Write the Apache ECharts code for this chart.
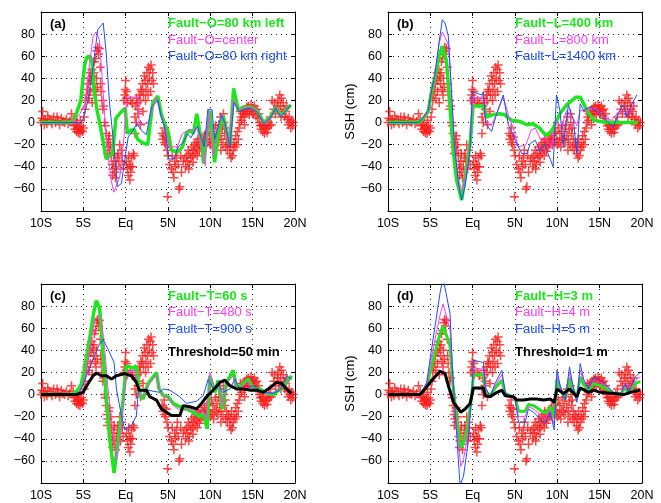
<!DOCTYPE html>
<html>
<head>
<meta charset="utf-8">
<script src="https://cdn.jsdelivr.net/npm/echarts@6/dist/echarts.min.js"></script>
<style>html,body{margin:0;padding:0;background:#fff}#c{width:661px;height:503px}</style>
</head>
<body>
<div id="c"></div>
<script>
// ---------- DATA ----------
const xTickValues = [-10, -5, 0, 5, 10, 15, 20];
const xTickLabels = ['10S', '5S', 'Eq', '5N', '10N', '15N', '20N'];
const panelLabels = ['(a)', '(b)', '(c)', '(d)'];

// Observed SSH (cm) vs latitude (red crosses), same in every panel
const obs = [
[-10,0],[-9.9,4],[-9.8,10],[-9.7,2],[-9.6,-2],[-9.5,3],[-9.3,-1],[-9.2,6],[-9.0,3],[-8.8,1],[-8.7,-1],[-8.5,5],[-8.3,0],[-8.1,5],[-8.0,2],[-7.8,-2],[-7.6,4],[-7.4,1],[-7.2,0],[-7.0,3],[-6.8,-1],[-6.6,1],
[-6.4,8],[-6.2,3],[-6.1,-3],[-6.0,-6],[-5.9,-2],[-5.8,-8],[-5.75,0],[-5.7,-5],[-5.6,-9],[-5.5,-4],[-5.4,-10],[-5.35,2],[-5.3,-7],[-5.2,-3],[-5.1,-8],[-5.0,-5],
[-4.9,5],[-4.8,12],[-4.7,20],[-4.6,25],[-4.5,30],[-4.4,35],[-4.35,22],[-4.3,40],[-4.2,45],[-4.15,28],[-4.1,38],[-4.0,48],[-3.95,18],[-3.9,42],[-3.8,35],[-3.75,45],[-3.7,55],[-3.6,30],[-3.55,58],[-3.5,25],[-3.45,40],[-3.4,65],[-3.35,32],[-3.3,68],
[-3.2,62],[-3.1,67],[-3.0,50],[-2.95,35],[-2.9,28],[-2.8,20],[-2.7,12],[-2.6,15],[-2.5,0],[-2.4,-3],
[-2.3,-10],[-2.2,-18],[-2.15,-28],[-2.1,-22],[-2.0,-15],[-1.95,-12],[-1.9,-25],[-1.8,-20],
[-1.7,-30],[-1.6,-38],[-1.55,-48],[-1.5,-42],[-1.4,-35],[-1.35,-28],[-1.3,-45],[-1.2,-50],[-1.1,-40],[-1.0,-32],[-0.9,-28],[-0.8,-35],[-0.7,-20],[-0.6,-42],[-0.5,-25],[-0.4,-30],[-0.3,-38],
[-0.2,20],[-0.1,25],[-0.05,30],[0.0,38],[0.1,22],[0.15,28],[0.2,18],
[0.1,-35],[0.2,-42],[0.3,-48],[0.35,-30],[0.4,-38],[0.5,-52],[0.55,-40],[0.6,-45],[0.7,-32],[0.8,-40],[0.9,-28],[1.0,-30],[1.1,-10],
[0.6,20],[0.8,17],[1.1,5],[1.2,15],[1.25,0],[1.3,22],[1.4,18],[1.45,8],[1.5,12],[1.6,25],[1.7,20],[1.75,-2],[1.8,30],[1.9,28],[2.0,35],[2.05,10],[2.1,25],[2.2,42],[2.3,38],[2.35,20],[2.4,30],[2.5,45],[2.6,35],[2.65,25],[2.7,50],[2.8,40],[2.9,48],[2.95,28],[3.0,52],[3.1,38],[3.2,45],[3.3,35],
[4.3,-10],[4.4,-15],[4.5,-12],[4.55,-5],[4.6,-18],[4.7,-20],[4.8,-13],[4.9,-25],[4.95,-67],[5.0,-30],
[5.2,-38],[5.4,-42],[5.5,-30],[5.6,-45],[5.7,-50],[5.8,-35],[5.9,-40],[6.0,-32],[6.1,-25],[6.2,-38],[6.3,-60],[6.4,-58],[6.5,-30],[6.6,-45],[6.8,-35],[7.0,-32],[7.1,-40],
[7.2,-30],[7.3,-35],[7.4,-25],[7.45,-42],[7.5,-38],[7.6,-28],[7.7,-32],[7.8,-22],[7.9,-30],[7.95,-36],[8.0,-25],[8.1,-20],[8.2,-28],[8.3,-18],[8.4,-24],[8.45,-30],[8.5,-15],[8.6,-20],[8.7,-26],[8.8,-18],[8.9,-22],[9.0,-14],[9.1,-20],[9.2,-16],[9.3,-12],[9.4,-20],[9.5,-15],[9.6,-10],
[9.7,-18],[9.8,-8],[9.9,-15],[10.0,-20],[10.1,-5],[10.2,-18],[10.3,-10],[10.4,-22],[10.5,-14],[10.6,-3],[10.7,-16],[10.8,-8],[10.9,-18],[11.0,-2],[11.1,-12],[11.2,5],[11.25,-25],[11.3,-15],[11.4,-6],[11.5,-20],[11.55,8],[11.6,0],[11.7,-10],[11.75,-5],[11.8,-22],[11.9,-15],[12.0,-25],[12.1,-18],
[12.2,-20],[12.3,-28],[12.4,-22],[12.45,-32],[12.5,-15],[12.6,-30],[12.7,-25],[12.8,-18],[12.9,-22],[13.0,-12],[13.1,-20],[13.2,-8],[13.3,-15],
[13.4,-5],[13.5,0],[13.55,10],[13.6,5],[13.7,2],[13.8,8],[13.9,10],[14.0,5],[14.05,-2],[14.1,12],[14.2,8],[14.3,14],[14.4,10],[14.5,15],[14.6,7],[14.7,12],[14.8,16],[14.9,10],[15.0,13],[15.1,8],[15.2,15],[15.3,11],[15.4,6],[15.5,12],[15.6,4],[15.7,8],[15.8,0],
[15.9,-3],[16.0,-6],[16.1,-2],[16.2,-8],[16.3,-4],[16.4,-10],[16.5,-6],[16.6,-2],[16.7,-9],[16.8,-5],[16.9,0],[17.0,-3],
[17.1,5],[17.2,-2],[17.3,20],[17.5,12],[17.6,18],[17.7,8],[17.9,15],[18.0,20],[18.1,10],[18.2,25],[18.3,15],[18.35,5],[18.4,22],[18.5,8],[18.6,18],[18.7,12],[18.8,5],[18.9,10],[19.0,15],[19.1,3],[19.2,-2],[19.3,5],[19.4,0],[19.5,-5],[19.6,2],[19.7,-3],[19.8,0]
];

// (a) Fault offset
const aGreen = [[-10,0],[-6.5,0],[-6.0,4],[-5.6,13],[-5.3,20],[-5.1,35],[-4.85,52],[-4.6,59],[-4.25,60],[-3.95,54],[-3.75,30],[-3.4,12],[-3.0,-3],[-2.6,-20],[-2.3,-33],[-1.55,-28],[-1.15,4],[-0.6,9],[-0.05,13],[0.2,-10],[0.6,-7],[1.0,-6],[1.4,-15],[1.9,-18],[2.6,-20],[3.2,18],[3.8,24],[4.2,8],[4.6,-1],[5.0,-8],[5.4,-25],[6.1,-27],[6.7,-22],[7.2,-9],[7.6,-7],[8.0,-10],[8.4,8],[8.9,-15],[9.2,-37],[9.6,-10],[9.95,11],[10.5,-36],[11.0,-8],[11.5,7],[12.3,-20],[12.75,31],[13.3,11],[13.9,14],[14.8,14],[15.6,10],[16.3,0],[17.1,5],[17.7,14],[18.3,6],[19.5,16]];
const aMagenta = [[-10,0],[-6.5,0],[-6.0,2],[-5.4,8],[-4.85,17],[-4.45,41],[-3.85,78],[-3.5,82],[-3.1,75],[-2.7,32],[-2.3,-13],[-1.8,-49],[-1.4,-63],[-0.7,-49],[-0.2,-13],[0.1,23],[1.45,23],[1.6,-1],[2.6,-1],[3.6,23],[4.2,6],[4.6,-3],[5.1,-22],[6.1,-22],[6.7,-10],[7.2,-8],[7.6,-6],[8.0,-7],[8.4,-5],[8.9,-20],[9.4,-39],[9.8,11],[10.3,-30],[10.8,-5],[11.4,7],[12.2,-18],[12.7,21],[13.3,11],[13.9,14],[14.8,14],[15.6,10],[16.3,0],[17.1,5],[17.7,14],[18.3,6],[19.5,16]];
const aBlue = [[-10,0],[-5.2,0],[-5.0,4],[-4.45,20],[-3.85,50],[-3.3,84],[-2.65,90],[-2.3,63],[-1.9,17],[-1.3,-28],[-0.98,-58],[-0.5,-55],[-0.05,-31],[0.3,-13],[0.9,-7],[1.3,-1],[1.85,-7],[2.45,-11],[3.05,14],[3.8,20],[4.2,5],[4.6,-4],[5.1,-33],[5.7,-33],[6.2,-22],[6.8,-18],[7.3,-10],[7.7,-14],[8.1,-8],[8.5,-3],[8.9,-14],[9.3,-22],[9.7,12],[10.2,12],[10.5,-15],[10.9,-5],[11.3,7],[11.7,0],[12.3,-22],[12.8,18],[13.4,10],[14.0,12],[14.8,13],[15.6,9],[16.3,-1],[17.1,4],[17.7,13],[18.3,5],[19.5,16]];

// (b) Fault length
const bGreen = [[-10,0],[-6.4,0],[-5.8,4],[-5.25,10],[-4.85,28],[-4.45,41],[-3.95,60],[-3.6,69],[-3.1,56],[-2.7,17],[-2.3,-25],[-1.9,-52],[-1.3,-70],[-0.8,-45],[-0.3,-19],[0.05,15],[1.3,15],[1.6,5],[2.4,7],[3.2,8],[3.8,7],[4.6,2],[5.6,1],[6.4,-2],[7.1,-1],[7.9,-5],[8.7,-12],[9.4,-7],[10.3,8],[11.1,16],[12.2,23],[12.7,23],[13.5,11],[14.3,2],[15.8,0],[17.4,0],[19.5,0]];
const bMagenta = [[-10,0],[-6.4,0],[-5.8,4],[-5.25,10],[-4.85,29],[-4.45,44],[-3.95,72],[-3.58,82],[-3.2,76],[-2.85,70],[-2.5,26],[-2.15,-19],[-1.7,-50],[-1.3,-62],[-0.9,-52],[-0.3,-22],[0.05,23],[0.7,22],[1.25,24],[1.55,2],[2.25,-2],[2.85,8],[3.6,23],[4.3,5],[4.8,-5],[5.4,-22],[6.3,-20],[6.9,-7],[7.4,-5],[8.0,-15],[8.6,-13],[9.3,-22],[9.9,2],[10.5,-4],[11.1,11],[11.9,4],[12.3,-3],[12.7,11],[13.5,11],[14.5,13],[15.7,4],[16.4,2],[17.4,11],[18.0,7],[19.4,16]];
const bBlue = [[-10,0],[-6.4,0],[-5.8,5],[-5.25,11],[-4.85,29],[-4.45,44],[-3.98,72],[-3.58,93],[-3.27,90],[-2.87,78],[-2.48,26],[-2.17,-19],[-1.69,-55],[-1.3,-70],[-0.91,-58],[-0.31,-25],[-0.04,28],[0.67,26],[1.06,25],[1.26,28],[1.54,-1],[2.24,-8],[2.83,8],[3.62,25],[4.21,-2],[4.6,-8],[5.2,-19],[5.8,-28],[6.4,-28],[6.8,-19],[7.4,-16],[8.0,-27],[8.5,-19],[8.9,-28],[9.5,-40],[9.9,25],[10.3,11],[10.7,-22],[11.3,16],[11.9,2],[12.3,-28],[12.7,17],[13.1,11],[13.9,14],[14.5,11],[15.2,8],[16.0,0],[16.6,-4],[17.2,8],[17.8,16],[18.2,5],[18.8,17],[19.4,25]];

// (c) Fault rise time
const cGreen = [[-10,0],[-6.4,0],[-5.8,3],[-5.25,9],[-4.84,24],[-4.25,51],[-3.75,75],[-3.46,85],[-3.07,78],[-2.67,36],[-2.28,-3],[-1.9,-39],[-1.37,-71],[-0.9,-42],[-0.4,-12],[0.09,26],[0.88,24],[1.27,26],[1.59,2],[2.06,-4],[2.65,10],[3.64,20],[3.95,5],[4.43,-1],[5.02,-2],[5.61,-8],[6.4,-11],[7.19,-13],[7.97,-16],[8.76,-20],[9.16,-17],[9.63,-31],[9.94,17],[10.54,2],[10.93,13],[11.44,-13],[11.92,11],[12.7,22],[13.1,5],[13.89,10],[14.48,14],[15.07,5],[15.86,5],[16.65,1],[17.43,0],[18.22,5],[19.01,11],[19.6,17]];
const cMagenta = [[-10,0],[-6.2,0],[-5.43,2],[-4.84,14],[-4.25,41],[-3.65,68],[-3.26,72],[-2.87,67],[-2.47,41],[-2.08,5],[-1.6,-28],[-1.09,-60],[-0.62,-37],[-0.22,-4],[0.09,20],[1.08,22],[1.47,4],[2.06,-2],[2.65,8],[3.64,18],[4.03,4],[4.43,-1],[5.02,-3],[5.61,-10],[6.4,-14],[7.19,-14],[7.97,-13],[8.76,-17],[9.16,-15],[9.55,-22],[9.94,20],[10.54,4],[10.93,12],[11.44,-10],[11.92,10],[12.7,17],[13.1,4],[13.89,8],[14.48,12],[15.07,4],[15.86,4],[16.65,0],[17.43,2],[18.22,7],[19.01,10],[19.6,15]];
const cBlue = [[-10,0],[-5.82,0],[-5.23,5],[-4.64,17],[-3.85,32],[-3.26,43],[-2.67,50],[-2.08,41],[-1.37,29],[-1.09,5],[-0.5,-19],[-0.11,-32],[0.68,-28],[1.27,-19],[1.47,2],[2.06,5],[3.24,3],[4.03,2],[4.43,5],[5.21,4],[6.4,-2],[7.19,-8],[8.37,-6],[9.16,-1],[9.75,14],[10.34,5],[10.93,10],[11.44,2],[12.31,5],[12.9,14],[13.49,5],[14.28,5],[15.07,8],[15.86,4],[16.65,2],[17.43,1],[18.22,4],[19.01,17],[19.6,14]];
const cBlack = [[-10,0],[-5.82,0],[-5.03,2],[-4.44,10],[-3.85,17],[-3.46,19.5],[-2.87,17],[-2.27,17],[-1.68,14],[-1.09,17],[-0.11,19],[0.68,17],[1.27,11],[1.59,4],[2.46,4],[2.85,-2],[3.64,-5],[4.23,-13],[4.82,-16],[5.41,-19],[6.4,-19],[6.79,-10],[7.58,-11],[8.37,-13],[8.96,-8],[9.55,-2],[10.34,4],[11.13,11],[11.72,13],[12.31,8],[13.1,5],[13.89,5],[14.67,4],[15.46,4],[16.25,2],[16.84,5],[17.83,11],[18.42,10],[19.01,5],[19.6,1]];

// (d) Fault slip height
const dGreen = [[-10,0],[-6.22,0],[-5.43,7],[-5.03,20],[-4.44,38],[-3.85,55],[-3.5,62],[-3.06,53],[-2.67,44],[-2.35,10],[-1.88,-22],[-1.4,-48],[-1.09,-44],[-0.62,-30],[-0.11,-1],[0.09,18],[1.27,18],[1.47,4],[2.06,-1],[2.65,6],[3.44,13],[3.84,1],[4.43,-1],[5.02,-3],[5.41,-15],[6.2,-15],[6.59,-9],[7.19,-10],[7.97,-14],[8.56,-17],[9.16,-11],[9.63,-21],[9.95,14],[10.34,5],[10.93,-3],[11.44,15],[11.84,5],[12.31,-3],[12.7,16],[13.1,9],[13.69,4],[14.28,10],[15.07,8],[15.86,5],[16.65,1],[17.43,0],[18.02,6],[18.42,1],[19.21,10],[19.8,12]];
const dMagenta = [[-10,0],[-6.22,0],[-5.43,9],[-5.03,26],[-4.44,50],[-3.85,72],[-3.5,82],[-3.06,70],[-2.67,58],[-2.35,13],[-1.88,-30],[-1.4,-65],[-1.09,-59],[-0.62,-39],[-0.11,-1],[0.09,24],[1.27,23],[1.47,5],[2.06,-2],[2.65,8],[3.44,18],[3.84,1],[4.43,-2],[5.02,-4],[5.41,-20],[6.2,-20],[6.59,-11],[7.19,-13],[7.97,-18],[8.56,-22],[9.16,-14],[9.63,-27],[9.95,18],[10.34,6],[10.93,-4],[11.44,20],[11.84,7],[12.31,-5],[12.7,22],[13.1,12],[13.69,5],[14.28,13],[15.07,11],[15.86,7],[16.65,2],[17.43,0],[18.02,8],[18.42,2],[19.21,13],[19.8,16]];
const dBlue = [[-10,0],[-6.22,0],[-5.43,11],[-5.03,32],[-4.44,62],[-3.85,92],[-3.5,105],[-3.15,92],[-2.67,73],[-2.35,17],[-1.88,-37],[-1.49,-82],[-1.09,-74],[-0.62,-49],[-0.11,-1],[0.09,31],[1.27,29],[1.47,7],[2.06,-2],[2.65,10],[3.44,22],[3.84,2],[4.43,-2],[5.02,-4],[5.41,-25],[6.2,-25],[6.59,-13],[7.19,-16],[7.97,-22],[8.56,-26],[9.16,-16],[9.63,-32],[9.95,22],[10.34,8],[10.93,-5],[11.44,25],[11.84,8],[12.31,-7],[12.7,28],[13.1,14],[13.69,5],[14.28,16],[15.07,13],[15.86,8],[16.65,2],[17.43,0],[18.02,10],[18.42,2],[19.21,16],[19.8,20]];
const dBlack = [[-10,0],[-6.22,0],[-5.62,5],[-5.03,11],[-4.44,16],[-3.85,21],[-3.26,19],[-2.87,8],[-2.27,-7],[-1.68,-13],[-1.41,-16],[-0.89,-13],[-0.3,-8],[0.09,6],[1.27,6],[1.47,-1],[2.06,-2],[2.65,1],[3.44,4],[3.84,-1],[4.82,-2],[5.21,-5],[6.0,-5],[6.79,-4],[7.58,-4],[8.37,-5],[9.16,-4],[9.63,-7],[9.95,5],[10.73,1],[11.44,5],[12.31,-2],[12.7,6],[13.69,2],[14.28,4],[15.07,2],[16.65,1],[17.83,0],[18.62,2],[19.8,4]];

const legends = [
  ['Fault\u2212O=80 km left', 'Fault\u2212O=center', 'Fault\u2212O=80 km right'],
  ['Fault\u2212L=400 km', 'Fault\u2212L=800 km', 'Fault\u2212L=1400 km'],
  ['Fault\u2212T=60 s', 'Fault\u2212T=480 s', 'Fault\u2212T=900 s', 'Threshold=50 min'],
  ['Fault\u2212H=3 m', 'Fault\u2212H=4 m', 'Fault\u2212H=5 m', 'Threshold=1 m']
];

// ---------- LAYOUT / STYLE ----------
const FONT = '"Liberation Sans", Arial, Helvetica, sans-serif';
const C_GREEN = '#1ee61e', C_MAG = '#ff40ff', C_BLUE = '#1f4fff', C_RED = '#ff1a1a', C_BLACK = '#000';
const grids = [
  {left: 41, top: 12, width: 254, height: 199},
  {left: 388, top: 12, width: 254, height: 199},
  {left: 41, top: 284, width: 254, height: 199},
  {left: 388, top: 284, width: 254, height: 199}
];
const legendX = [168, 515, 168, 515];
const legendY0 = [23.5, 23.5, 296, 296];
const panelLines = [
  [aGreen, aMagenta, aBlue, null],
  [bGreen, bMagenta, bBlue, null],
  [cGreen, cMagenta, cBlue, cBlack],
  [dGreen, dMagenta, dBlue, dBlack]
];
const plusPath = 'path://M3.75,0h1.5v3.75h3.75v1.5h-3.75v3.75h-1.5v-3.75h-3.75v-1.5h3.75z';

const xAxes = [], yAxes = [], series = [], graphics = [];
const axisLineStyle = {show: true, onZero: false, lineStyle: {color: '#000', width: 1}};
const tickStyle = {show: true, inside: true, length: 4, lineStyle: {color: '#000'}};
grids.forEach((g, i) => {
  const common = {type: 'value', gridIndex: i, min: -10, max: 20, interval: 5};
  xAxes.push(Object.assign({}, common, {
    position: 'bottom', axisLine: axisLineStyle, axisTick: tickStyle,
    axisLabel: {show: true, margin: 6, color: '#000', fontFamily: FONT, fontSize: 12.5,
      showMinLabel: true, showMaxLabel: true,
      formatter: v => { const k = xTickValues.indexOf(v); return k >= 0 ? xTickLabels[k] : ''; }},
    splitLine: {show: true, lineStyle: {color: '#222', width: 1, type: [1, 4]}}
  }));
  xAxes.push(Object.assign({}, common, {
    position: 'top', axisLine: axisLineStyle, axisTick: tickStyle,
    axisLabel: {show: false}, splitLine: {show: false}
  }));
  const yc = {type: 'value', gridIndex: i, min: -80, max: 100, interval: 20};
  yAxes.push(Object.assign({}, yc, {
    position: 'left', axisLine: axisLineStyle, axisTick: tickStyle,
    axisLabel: {show: true, margin: 6, color: '#000', fontFamily: FONT, fontSize: 12.5,
      formatter: v => (v <= -80 || v >= 100) ? '' : String(v).replace('-', '\u2212')},
    splitLine: {show: true, lineStyle: {color: '#222', width: 1, type: [1, 4]}},
    name: (i % 2 === 1) ? 'SSH (cm)' : '', nameLocation: 'middle', nameGap: 31,
    nameTextStyle: {color: '#000', fontFamily: FONT, fontSize: 13}
  }));
  yAxes.push(Object.assign({}, yc, {
    position: 'right', axisLine: axisLineStyle, axisTick: tickStyle,
    axisLabel: {show: false}, splitLine: {show: false}
  }));

  series.push({
    type: 'scatter', xAxisIndex: 2 * i, yAxisIndex: 2 * i, data: obs,
    symbol: plusPath, symbolSize: 9, itemStyle: {color: C_RED, opacity: 0.8}, z: 2, silent: true
  });
  const [lg, lm, lb, lk] = panelLines[i];
  series.push({type: 'line', xAxisIndex: 2 * i, yAxisIndex: 2 * i, data: lg, showSymbol: false,
    lineStyle: {color: C_GREEN, width: i === 3 ? 3 : 3.5}, z: 3});
  series.push({type: 'line', xAxisIndex: 2 * i, yAxisIndex: 2 * i, data: lm, showSymbol: false,
    lineStyle: {color: C_MAG, width: 1}, z: 4});
  series.push({type: 'line', xAxisIndex: 2 * i, yAxisIndex: 2 * i, data: lb, showSymbol: false,
    lineStyle: {color: C_BLUE, width: 1}, z: 5});
  if (lk) series.push({type: 'line', xAxisIndex: 2 * i, yAxisIndex: 2 * i, data: lk, showSymbol: false,
    lineStyle: {color: C_BLACK, width: 3}, z: 6});

  graphics.push({type: 'text', x: g.left + 9, y: g.top + 12, z: 100,
    style: {text: panelLabels[i], fill: '#000', font: 'bold 13px ' + FONT, verticalAlign: 'middle'}});
  const cols = [C_GREEN, C_MAG, C_BLUE, C_BLACK];
  const bold = [true, false, false, true];
  const dy = [0, 16.5, 33, 56];
  legends[i].forEach((t, k) => {
    graphics.push({type: 'text', x: legendX[i], y: legendY0[i] + dy[k], z: 100,
      style: {text: t, fill: cols[k], font: (bold[k] ? 'bold ' : '') + '13px ' + FONT, verticalAlign: 'middle'}});
  });
});

const chart = echarts.init(document.getElementById('c'), null, {renderer: 'canvas'});
chart.setOption({
  animation: false,
  backgroundColor: '#fff',
  grid: grids.map(g => Object.assign({containLabel: false}, g)),
  xAxis: xAxes,
  yAxis: yAxes,
  series: series,
  graphic: graphics
});
</script>
</body>
</html>
